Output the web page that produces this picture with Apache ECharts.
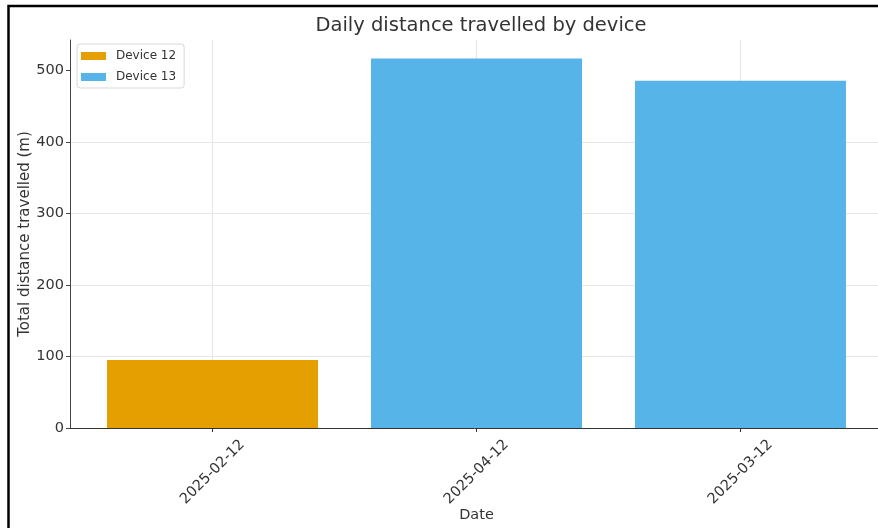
<!DOCTYPE html>
<html>
<head>
<meta charset="utf-8">
<script src="https://cdn.jsdelivr.net/npm/echarts@6/dist/echarts.min.js"></script>
<style>html,body{margin:0;padding:0;background:#fff;}#chart{width:878px;height:528px;}</style>
</head>
<body>
<div id="chart"></div>
<script>
const dates = ['2025-02-12', '2025-04-12', '2025-03-12'];
const device12 = [95, null, null];
const device13 = [null, 517, 486];
const yTicks = [0, 100, 200, 300, 400, 500];
const seriesNames = ['Device 12', 'Device 13'];

const FONT = 'DejaVu Sans';
const idx = dates.map((d, i) => i);
const toPairs = arr => arr.map((v, i) => v == null ? null : [i, v]).filter(p => p);

const chart = echarts.init(document.getElementById('chart'), null, {renderer: 'canvas'});
chart.setOption({
  animation: false,
  backgroundColor: '#fff',
  textStyle: {fontFamily: FONT},
  title: {
    text: 'Daily distance travelled by device',
    left: 476, top: 11, textAlign: 'center',
    textStyle: {fontFamily: FONT, fontSize: 19.5, fontWeight: 'normal', color: '#333'}
  },
  graphic: [{
    type: 'rect', silent: true, z: 100,
    shape: {x: 8.5, y: 6, width: 900, height: 600},
    style: {fill: 'none', stroke: '#000', lineWidth: 2.5}
  }],
  legend: {
    data: seriesNames,
    orient: 'vertical', left: 77, top: 44,
    icon: 'rect', itemWidth: 25, itemHeight: 8, itemGap: 9,
    padding: [6, 8, 5, 4],
    backgroundColor: '#fff', borderColor: '#d8d8d8', borderWidth: 1, borderRadius: 3,
    textStyle: {fontFamily: FONT, fontSize: 12, color: '#333', padding: [0, 0, 0, 5]}
  },
  grid: {left: 70, top: 40, width: 813, height: 388, containLabel: false, outerBoundsMode: 'none'},
  xAxis: {
    type: 'value', min: -0.54, max: 2.54,
    name: 'Date', nameLocation: 'middle', nameGap: 80, nameMoveOverlap: false,
    nameTextStyle: {fontFamily: FONT, fontSize: 14.5, color: '#333'},
    axisLine: {show: true, onZero: false, lineStyle: {color: '#333', width: 1}},
    axisTick: {show: true, customValues: idx, length: 4, lineStyle: {color: '#333'}},
    axisLabel: {
      customValues: idx, rotate: 45, align: 'center', verticalAlign: 'middle', margin: 44,
      fontFamily: FONT, fontSize: 14.5, color: '#333',
      formatter: v => dates[Math.round(v)] || ''
    },
    splitLine: {show: false}
  },
  yAxis: {
    type: 'value', min: 0, max: 543, interval: 100,
    name: 'Total distance travelled (m)', nameLocation: 'middle', nameGap: 37, nameMoveOverlap: false,
    nameTextStyle: {fontFamily: FONT, fontSize: 15, color: '#333'},
    axisLine: {show: true, onZero: false, lineStyle: {color: '#444', width: 1}},
    axisTick: {show: true, customValues: yTicks, length: 4, lineStyle: {color: '#444'}},
    axisLabel: {customValues: yTicks, margin: 6, fontFamily: FONT, fontSize: 14.5, color: '#333'},
    splitLine: {show: true, showMaxLine: false, lineStyle: {color: '#e6e6e6', width: 1}}
  },
  series: [
    {
      name: 'grid', type: 'line', data: [], z: 1, silent: true,
      markLine: {
        z: 1, silent: true, symbol: 'none', label: {show: false},
        lineStyle: {color: '#e6e6e6', width: 1, type: 'solid'},
        data: idx.map(i => ({xAxis: i}))
      }
    },
    {
      name: seriesNames[0], type: 'bar', z: 3, barWidth: 211, barGap: '-100%',
      itemStyle: {color: '#E69F00'},
      data: toPairs(device12)
    },
    {
      name: seriesNames[1], type: 'bar', z: 3, barWidth: 211, barGap: '-100%',
      itemStyle: {color: '#56B4E9'},
      data: toPairs(device13)
    }
  ]
});
</script>
</body>
</html>
